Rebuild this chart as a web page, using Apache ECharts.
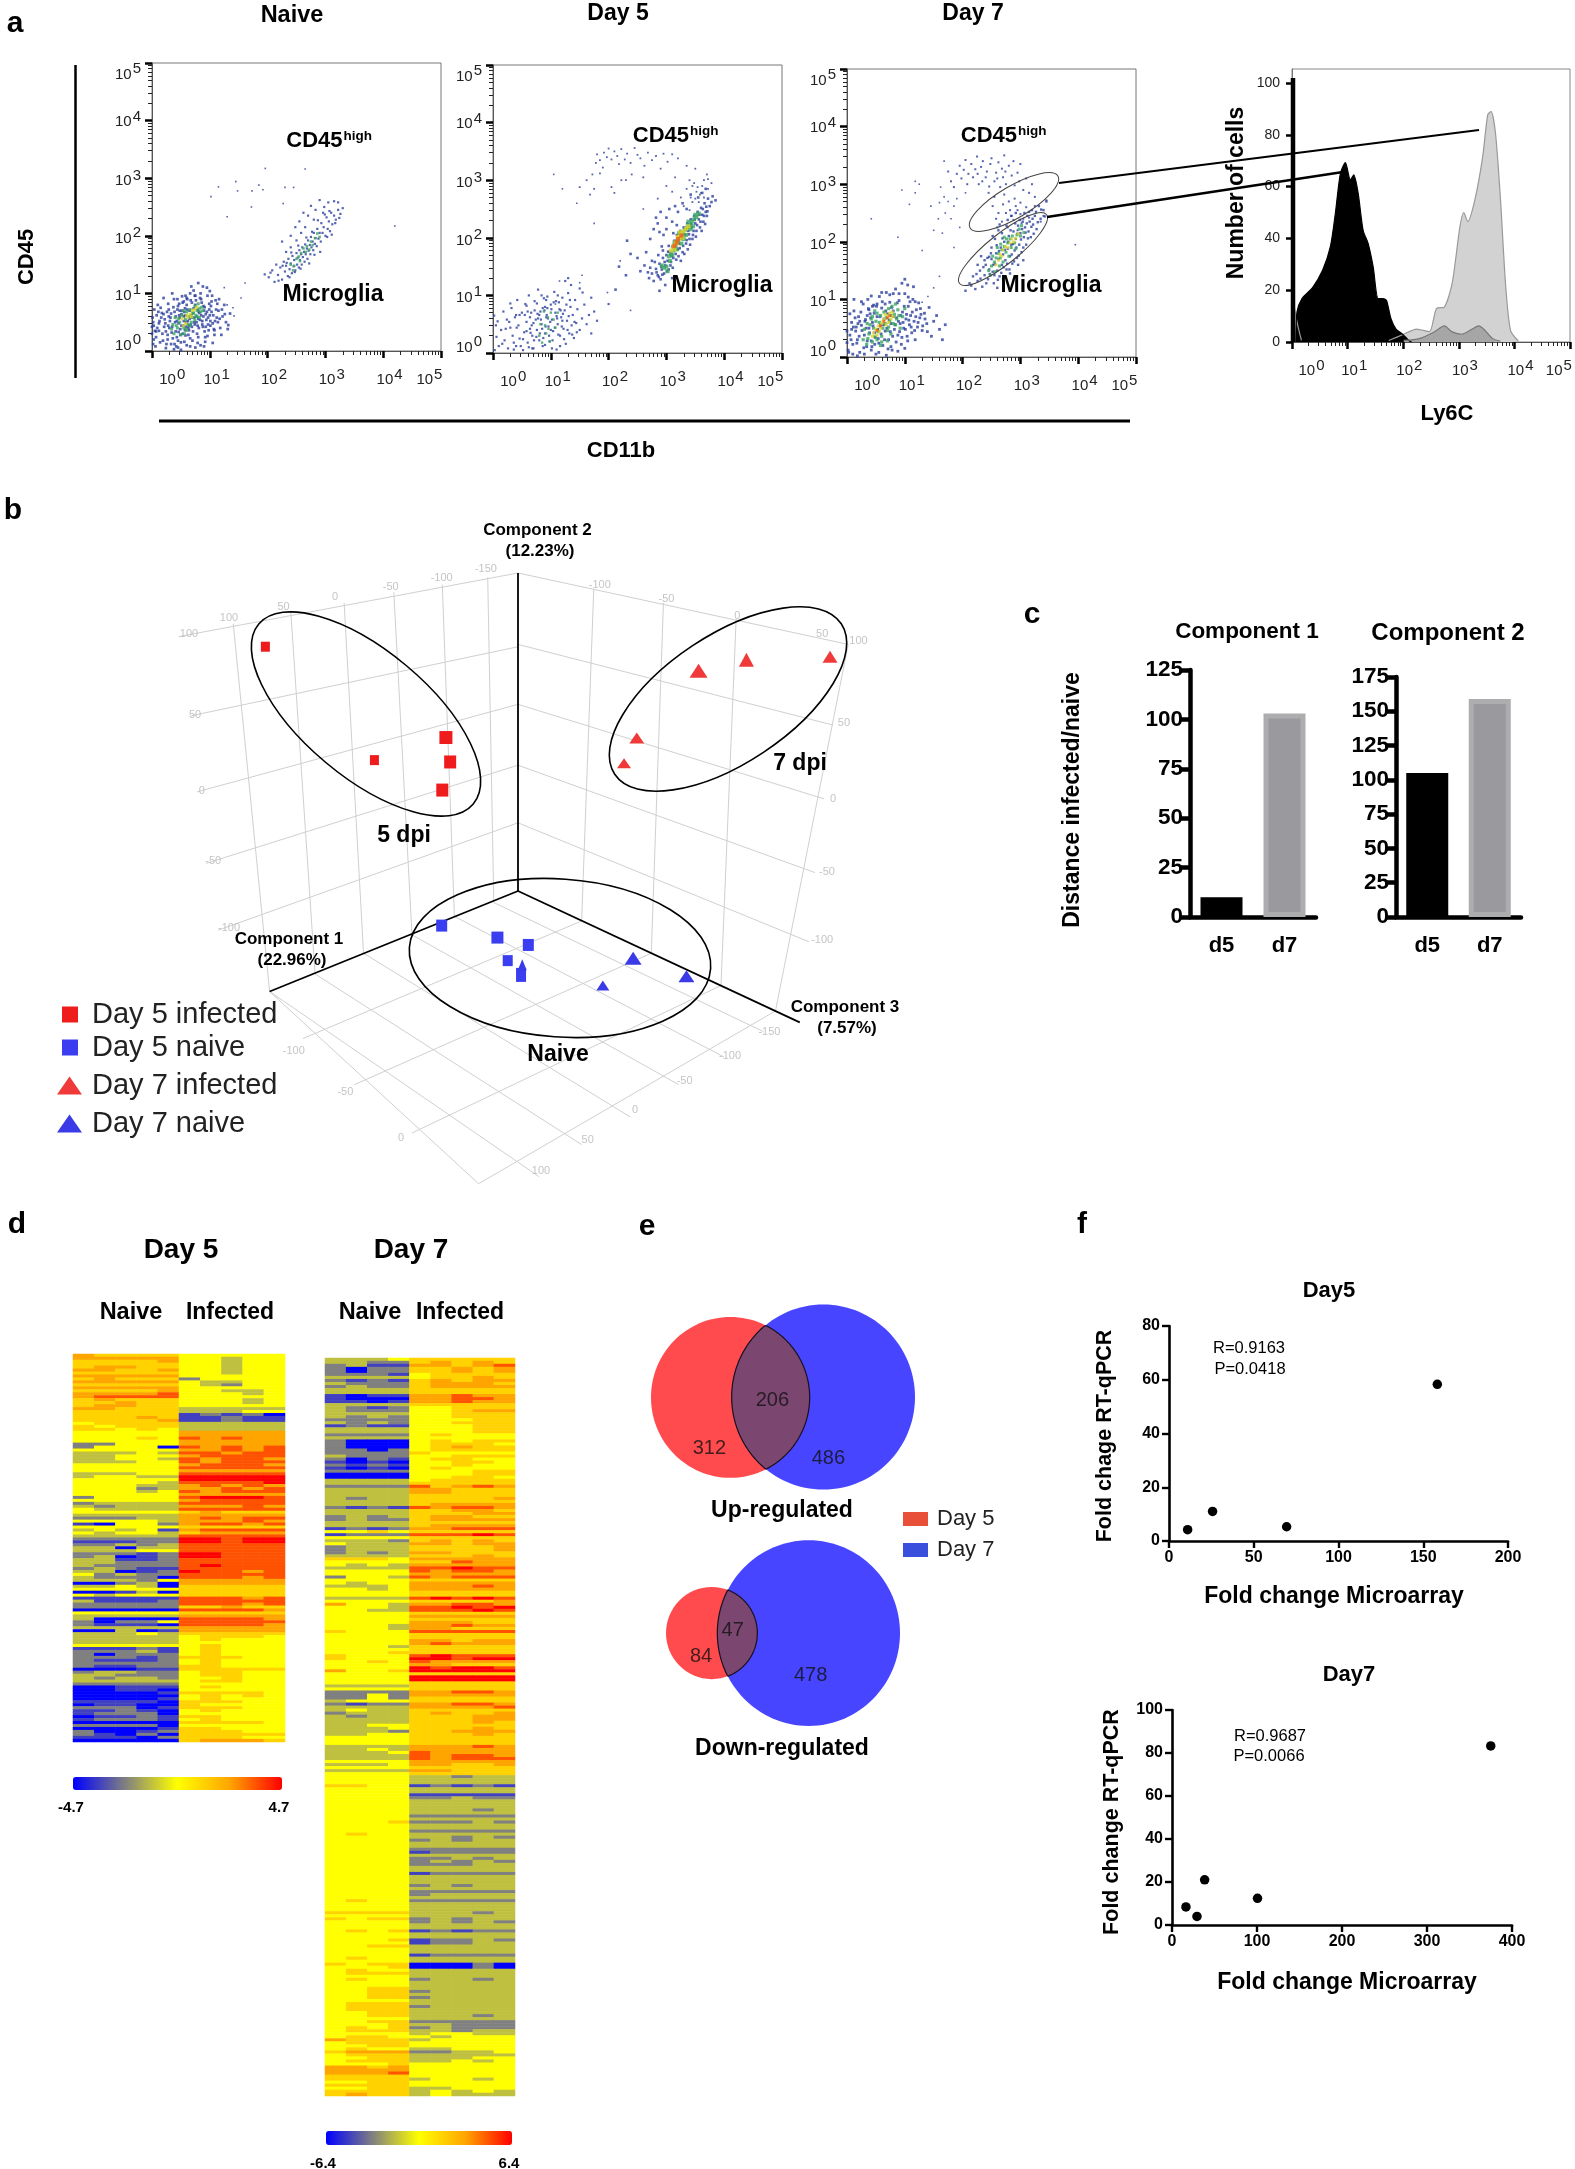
<!DOCTYPE html>
<html><head><meta charset="utf-8">
<script src="https://cdn.jsdelivr.net/npm/echarts@6/dist/echarts.min.js"></script>
<style>html,body{margin:0;background:#fff}#c{width:1575px;height:2169px}</style></head>
<body><div id="c"></div>
<script>
// ---------- panel a: flat x,y pairs, hundredths of a decade ----------
const naiveLow=[5,35,8,62,12,48,3,20,15,75,18,30,22,55,25,12,28,82,30,40,33,65,36,22,38,90,40,50,42,8,44,72,46,33,48,58,50,15,52,95,54,44,56,68,58,27,60,80,62,52,64,36,66,100,68,62,70,18,72,74,74,46,76,88,78,30,80,56,82,66,84,10,86,84,88,42,90,70,92,24,94,54,96,96,98,36,100,62,102,78,105,48,108,28,110,88,112,58,115,70,118,40,122,60,125,80,128,50,132,45,135,65,95,110,72,105,88,112,55,86,35,100,20,92,10,80,6,8,14,15,24,5,38,3,50,2,60,10,75,6,90,8,105,14,64,44,58,62,46,48,52,70,2,50,4,72,9,40,16,58,21,42,26,68,31,52,34,32,37,76,41,60,43,24,47,82,49,38,51,64,53,30,55,52,57,74,59,42,61,90,63,28,65,70,67,46,69,84,71,34,73,58,75,96,77,50,79,72,81,40,83,92,85,62,87,52,89,78,91,34,93,64,97,46,99,82,101,52,103,68,107,38,111,72,114,50,120,28,0,30,1,58,0,42,2,12,7,24,11,68,19,18,27,28,29,60,39,12,45,18,66,22,79,14,92,16,68,112,80,118,100,104,60,92,44,90];
const naiveLow2=[12,35,17,66,23,48,27,20,29,72,32,58,35,42,39,68,41,34,43,52,45,78,47,62,49,28,51,44,53,84,55,60,57,36,59,50,61,72,63,40,65,56,67,88,69,42,71,66,73,50,75,80,77,60,79,44,81,68,83,54,85,90,87,46,89,60,91,76,93,42,95,68,97,58,99,72,101,44,103,86,106,62,109,52,113,82,117,56,121,72,126,64,131,38,33,12,45,6,56,16,66,8,80,24,96,26,108,36,28,44,24,34,20,64,13,52,7,34,3,44,116,90,104,96,84,100,74,96,58,96,48,70];
const naiveLowCore=[48,50,52,62,55,40,58,55,60,68,62,46,64,60,66,72,68,50,70,58,72,66,74,78,76,62,78,70,80,82,82,74,84,68,56,30,50,28,44,40,40,58,36,46,60,36,86,76,42,44,46,56,54,70,58,38,66,44,70,66,74,54,78,60,82,58,88,70,34,38,38,30];
const naiveLowHot=[62,58,66,64,70,70,74,72,58,48,54,44,52,56,78,76,60,62,68,60];
const naiveMicro=[195,133,202,128,208,140,212,120,215,150,218,132,222,145,225,124,228,155,230,138,232,148,235,130,236,160,238,142,240,152,242,135,243,165,245,147,246,158,248,140,250,170,251,150,252,162,254,145,255,175,256,158,258,168,259,150,260,180,261,163,263,172,264,155,265,185,266,168,268,178,269,160,270,192,271,174,273,184,274,168,275,198,276,180,278,190,279,175,280,205,282,186,283,196,285,182,286,212,288,195,290,205,292,190,293,222,295,205,297,215,300,200,302,232,304,212,306,225,308,208,310,240,312,220,315,235,318,228,322,245,326,238,330,248,240,200,248,215,255,225,262,240,270,235,275,252,283,245,290,262,298,250,240,180,232,172,225,190,305,258,322,258,265,215,280,228,315,260,296,240,258,205,250,192,233,153,241,171,247,137,253,183,257,143,267,197,272,152,277,207,281,167,287,227,291,172,299,237,303,198,307,243,311,202,317,222,324,231,238,128,226,148,219,122,205,136];
const naiveMicroCore=[240,150,250,160,258,170,262,178,268,182,275,190,282,196,246,148,254,164,272,176,286,204,244,140,256,156,266,172,278,184,290,198];
const naiveSparse=[102,268,115,285,145,294,148,278,173,278,185,288,192,280,196,317,230,284,245,284,265,316,130,233,172,250,227,256,420,217,161,118,154,92,142,61,130,80,125,110,140,75];
const d5Low=[3,5,6,28,8,55,10,12,14,40,18,72,20,22,24,58,26,8,30,44,32,78,34,30,38,62,40,12,42,92,44,48,46,25,50,70,52,5,54,36,56,85,58,54,60,18,62,100,64,42,66,70,68,30,70,8,72,90,74,58,76,40,78,110,80,22,82,72,84,50,86,12,88,95,90,34,92,62,94,78,96,46,98,20,100,84,102,58,104,38,106,106,108,70,110,6,112,50,114,88,116,30,118,62,120,96,122,42,124,74,126,16,128,56,130,104,132,34,134,80,136,48,138,66,140,26,142,92,144,52,146,76,150,40,154,60,158,84,162,50,166,66,170,34,175,72,180,56,130,130,125,125,135,118,150,112,155,105,170,96,200,85,55,66,60,72,65,35,70,52,75,28,80,66,85,42,90,80,95,60,100,40,105,88,110,64,115,76,120,56,92,92,86,78,78,60,72,74,48,12,36,6,22,42,16,16,5,48,2,65,30,86,40,66];
const d5Low2=[62,10,67,48,71,22,77,68,81,34,83,58,87,26,89,74,91,46,93,66,97,30,99,54,101,76,103,22,107,44,109,90,111,60,113,32,117,74,119,46,121,68,123,24,127,84,129,40,131,64,133,92,137,32,141,54,145,36,64,62,58,38,52,24,46,66,41,44,36,18,28,54,84,100,94,98,112,100,76,86,68,8,58,82,90,14,102,8,116,12];
const d5LowCore=[80,30,85,18,90,48,95,62,100,70,92,34,105,58,88,72,98,20,82,50,96,42,108,44,112,70];
const d5High=[150,288,162,300,172,310,178,330,180,345,185,335,190,322,192,348,197,340,200,355,205,336,210,350,215,342,218,328,222,354,228,336,232,346,238,330,245,356,250,344,255,338,262,325,268,348,275,335,282,342,290,320,295,346,302,332,310,345,320,338,335,325,340,300,345,290,350,320,354,288,360,278,365,300,335,285,325,270,330,255,350,268,358,275,345,262,340,248,372,302,365,270,372,285,378,295,230,300,222,300,205,288,185,312,175,285,168,275,210,278,240,310,260,305,300,290,315,305,285,268,310,280,352,280,348,295,356,262,342,270,362,290,370,310];
const d5Micro=[270,130,275,138,278,125,282,146,285,135,288,155,290,128,292,145,294,165,296,138,298,152,300,170,302,160,304,145,306,175,308,158,310,185,312,165,314,195,316,172,318,205,320,180,322,190,324,212,326,198,328,175,330,218,332,205,334,190,336,225,338,212,340,198,342,232,344,218,346,205,348,238,350,225,352,212,354,245,356,232,358,218,360,252,362,240,364,228,366,260,368,245,370,238,372,268,375,255,378,262,380,272,385,265,265,175,272,198,278,215,282,235,275,160,285,225,290,245,295,205,300,235,305,250,310,228,315,255,320,245,328,260,335,250,342,275,288,210,292,185,300,215,250,165,255,142,262,152,238,172,298,118,310,130,288,108,230,135,218,150,232,195,212,110,355,270,362,278,368,285];
const d5Micro2=[283,140,287,132,291,150,293,136,297,158,301,142,303,176,307,152,309,168,311,148,313,182,317,162,319,194,321,168,323,182,325,160,327,204,329,186,331,172,333,214,335,196,337,180,339,206,341,188,343,224,345,198,347,212,349,232,351,202,353,222,357,240,359,228,361,212,363,250,365,238,367,224,369,254,371,246,294,178,286,170,280,158,272,148,268,140,304,186,312,208,318,222];
const d5MicroCore=[300,150,304,168,308,172,312,178,316,186,320,195,324,200,328,208,332,214,336,218,340,222,344,228,348,232,352,236,302,142,306,160,310,170,314,192,318,180,322,208,326,190,330,198,334,205,338,228,342,215,346,220,296,148,292,152,350,240,356,242];
const d5MicroHot=[308,178,312,186,316,192,320,202,322,198,326,206,330,212,334,216,338,220,314,180,318,190,324,210,328,200];
const d5Hottest=[314,186,320,198,326,204,318,192];
const d5Sparse=[105,310,120,285,145,260,175,225,220,160,260,250,238,74,108,85,115,125,150,122,154,135,198,105];
const d7Low=[2,12,5,38,8,60,10,22,12,80,15,45,18,30,20,70,22,8,25,55,28,92,30,38,32,65,34,18,36,100,38,50,40,75,42,28,44,60,46,90,48,42,50,5,52,70,54,32,56,105,58,55,60,85,62,20,64,66,66,45,68,112,70,75,72,30,74,95,76,58,78,12,80,80,82,48,84,118,86,68,88,38,90,98,92,58,94,22,96,78,98,50,100,110,102,66,104,36,106,88,108,56,110,72,112,42,114,100,116,62,118,30,120,82,122,52,124,94,126,68,130,46,134,76,138,58,142,86,146,36,150,62,155,72,160,48,165,30,170,56,95,128,105,125,115,122,100,135,80,110,60,112,42,106,25,96,12,100,5,75,0,45,0,25,3,8,10,5,18,2,30,5,42,12,55,8,68,3,76,18,88,10,100,15,48,22,35,72,22,62,16,52,8,48,38,82,44,88,52,92,66,92,74,108,90,110,106,104,118,96,128,74];
const d7Low2=[7,30,11,52,14,68,17,24,19,58,21,36,24,78,26,46,29,16,31,62,33,50,35,28,37,84,39,42,41,68,43,18,45,54,47,76,49,34,51,88,53,48,55,24,57,70,59,40,61,96,63,56,65,30,67,80,69,50,71,14,73,64,75,44,77,86,79,36,81,70,83,56,85,26,87,94,89,62,91,44,93,72,95,34,97,60,99,88,101,48,103,74,105,28,107,64,109,96,111,52,113,78,117,46,119,70,123,60,127,84,131,54,135,66,139,44];
const d7LowCore=[30,48,35,58,38,40,42,66,46,50,48,35,50,62,52,76,54,44,56,60,58,72,60,36,62,50,64,78,66,58,68,68,70,46,72,84,74,62,76,72,78,88,80,58,82,74,84,92,86,66,88,82,90,72,92,50,28,30,34,22,44,26,58,20,70,28,40,56,44,70,48,80,52,30,60,26,72,52,76,40,84,56,96,70,100,84,36,32];
const d7LowHot=[46,42,50,48,54,54,58,50,60,58,62,62,64,66,68,56,70,72,72,60,74,76,56,44,52,38,76,66,44,36,66,74,80,70,78,78];
const d7Hottest=[58,54,64,62,70,68,52,46,74,72];
const d7High=[175,322,180,305,185,295,190,318,195,332,198,310,202,325,205,342,208,300,210,318,215,335,218,312,222,326,225,348,228,300,232,330,235,340,240,312,242,322,245,285,248,335,250,345,255,305,258,320,262,338,265,295,268,327,270,312,272,350,275,300,280,332,285,315,288,340,290,298,295,320,298,305,300,335,305,290,310,310,315,285,320,300,325,278,270,265,275,250,280,270,285,245,290,275,295,255,300,268,305,240,310,260,255,278,262,250,268,235,278,225,288,238,295,220,302,232,260,225,315,242,325,262,345,272,340,245,335,235,252,262,258,240,272,282,282,255,292,262,300,248,226,318,234,305,246,296,260,310,274,322];
const d7Scatter=[42,240,95,290,108,265,118,285,118,305,125,300,145,262,150,220,158,240,160,268,162,295,168,278,170,250,175,270,185,262,190,275,168,340,205,285,88,208,130,185,165,215,185,190,160,140,150,120,140,105,130,95,195,225,180,240,395,195];
const d7Micro=[205,115,212,128,218,140,222,118,226,132,230,150,234,122,238,142,240,160,244,135,246,152,250,170,252,148,254,128,256,162,258,180,260,150,262,170,264,140,266,190,268,160,270,178,272,200,274,168,276,152,278,188,280,210,282,175,284,195,286,162,288,218,290,185,292,205,294,172,296,228,298,195,300,215,302,182,304,235,306,208,308,225,310,195,312,245,314,218,316,235,318,208,320,255,322,230,325,245,328,222,332,262,335,240,340,255,345,270,250,190,256,205,262,220,268,215,276,228,284,245,292,250,232,175,226,160,260,120,270,135,282,145,296,160,305,168];
const d7Micro2=[215,124,224,144,231,136,236,156,241,128,243,172,247,144,249,180,253,160,255,142,259,194,261,134,263,184,267,146,269,206,271,156,273,186,277,162,279,200,281,152,283,220,285,178,287,196,289,166,291,232,293,190,295,214,297,176,299,238,301,204,303,222,305,190,307,250,309,216,311,232,313,206,315,252,319,226,321,240,323,214,327,252,330,234,336,256,342,244,252,210,264,230,278,238,246,174,238,168];
const d7MicroCore=[245,150,250,158,255,165,258,172,262,180,265,172,268,186,272,192,275,182,278,198,282,205,286,210,290,198,294,212,298,222,302,228,306,216,270,165,264,158,280,175,252,175,260,190,276,205,248,142,256,148,284,190,292,188,300,210,272,208,266,196];
const d7MicroHot=[265,178,270,186,274,192,278,190,282,198,268,175,262,168,285,205,288,200,292,206,296,214,258,160];
// x,y of the Ly6C histogram outlines, decades and percent
const histBlack=[[0.07,0],[0.09,11.6],[0.18,16.8],[0.37,21],[0.55,27.7],[0.69,36.8],[0.78,49.7],[0.87,65],[0.96,69.3],[1.05,62.6],[1.11,64.5],[1.19,57.4],[1.28,43],[1.37,38],[1.46,29],[1.55,16.8],[1.64,16.8],[1.7,16],[1.78,9],[1.87,5],[1.99,3],[2.1,0.6],[2.15,0]];
const histLight=[[1.74,0.6],[2.01,3],[2.24,5],[2.47,4],[2.6,13],[2.74,13.5],[2.88,22.6],[3.02,44.5],[3.09,50],[3.16,46.5],[3.29,55],[3.43,71.6],[3.52,87.7],[3.58,89],[3.66,80.6],[3.75,55],[3.84,22.6],[3.93,4.5],[4.07,0.4]];
const histSpike=[[0,18.7],[0.09,7.7],[0.17,0.6]];
const histMid=[[2.01,0.6],[2.29,1.3],[2.56,3.9],[2.74,6.2],[2.88,3.9],[3.06,3],[3.24,5],[3.36,6.2],[3.47,4.5],[3.61,1.3],[3.75,0.3]];
const histTicks=[0,20,40,60,80,100];
const logExponents=[0,1,2,3,4,5];
const logLabelX=[.35,1.12,2.11,3.11,4.11,4.8];
const logLabelY=[.09,.96,1.95,2.95,3.97,4.8];
// ---------- panel b: projected coordinates ----------
const pcaFrame=[[855,870,445,1088],[855,870,1320,1155],[855,180,855,870]];
const pcaGrid=[[855,180,295,318],[855,340,315,490],[855,465,325,655],[855,597,340,810],[855,722,360,955],[385,290,445,1088],[480,265,520,1050],[568,245,600,1005],[650,222,680,965],[730,205,750,925],[805,190,815,895],
[855,180,1400,335],[855,335,1375,510],[855,465,1360,670],[855,597,1345,830],[855,722,1335,980],[1400,335,1280,1130],[980,215,960,935],[1095,245,1075,1005],[1215,280,1190,1075],
[960,935,500,1190],[1075,1005,585,1290],[1190,1075,680,1395],[1280,1130,790,1505],[445,1088,790,1505],[445,1088,890,1490],[520,1050,960,1420],[600,1005,1040,1360],[680,965,1120,1290],[750,925,1195,1230],[815,895,1260,1175]];
const pcaTickLabels=[[378,277,'100'],[468,253,'50'],[553,232,'0'],[645,211,'-50'],[729,190,'-100'],[802,172,'-150'],[312,312,'100'],[322,487,'50'],[333,652,'0'],[352,805,'-50'],[378,950,'-100'],[990,205,'-100'],[1100,237,'-50'],[1217,273,'0'],[1357,312,'50'],[1417,328,'100'],[1393,505,'50'],[1375,670,'0'],[1365,828,'-50'],[1357,977,'-100'],[1270,1175,'-150'],[1205,1228,'-100'],[1130,1282,'-50'],[1048,1345,'0'],[970,1410,'50'],[893,1477,'100'],[485,1218,'-100'],[570,1305,'-50'],[662,1405,'0']];
const d5Inf=[[438,340,9,10],[618,586,9,10],[736,537,13,13],[743,590,12,13],[730,651,12,13]];
const d5Nai=[[729,945,11,12],[821,971,12,12],[872,987,11,12],[838,1021,10,11],[860,1052,10,14]];
const d7Inf=[[1370,362,15,12],[1232,368,15,14],[1153,392,18,14],[1051,538,15,11],[1030,593,14,10]];
const d7Nai=[[862,1030,9,11],[1045,1016,17,13],[1133,1055,16,12],[995,1075,13,10]];
// ---------- panel c ----------
const compCats=['d5','d7'];
const comp1=[10,103];
const comp2=[105,159];
// ---------- panel d: one digit per cell, 1 = lowest ... 5 = middle ... 9 = highest ----------
const day5Rows=['7666655555','7777755455','6666755455','6666655455','6776655455','7766755455','6666655455','7777755555','6766635555','7777754455','6666654355','7777755555','6666755445','7777855545','7888855555','6766655545','6676655545','6776655555','7766644444','6666644455','6666623231','6667622322','6666722322','5666644444','6566644444','6656544444','5555577777','5555577777','5556587877','5555577777','3355577777','3555187878','5555577878','4445488788','4455578888','4455487887','4445587888','5555578887','5555588888','5555577777','4445588888','4554499999','5555599999','5555488889','5554478787','5553477878','5554587888','5555577777','3555589998','5555578888','3444488888','4344477787','5444488888','5555567666','4444477777','3334478788','5555477787','2155378878','5555566666','4545278888','5455467777','4444488888','3333399899','2223399899','3343488888','4414488888',
'4445588888','3332399888','3412399888','4422388888','4433388888','4333389888','3432288888','4412398878','5343388888','4333188878','4443577777','1134177777','4454166666','5555566666','1124166666','5455566666','2222288878','4222388888','3333388878','3333366766','1111188887','5555566666','4444477777','4111188887','3133588888','3222188887','4444477777','1141277777','4445466666','4444456665','4444456555','4444455555','5555556555','2223256555','3334256555','3133356555','3332366655','3222356555','3333356555','3223366555','1112266666','3443356655','4433356655','4344355655','4444456655','3333355555','1122256555','1122155555','1111266665','1111156565','1111256555','2222166655','1221165555','3331266655','2232156555','2333155555','1223266555','2333256555','1111166665','3333155555','1111266555','3112366655','3213166666','2221366655','1111167776'];
const day7Rows=['444566666','443367676','342277678','313366767','313366767','333256666','444456676','323267677','433367776','343367777','444466666','444466666','212277877','211177887','221277877','444466666','432355666','433355677','444455666','434355666','333355566','434355666','232255566','444455566','444455566','333356555','444455555','311156566','311156665','311156766','331356666','333365555','433355666','313256655','212155665','323255655','212156555','333355566','111155566','111155665','444456666','444466666','333386787','444477666','444477666','444466666','434466667','444466666','444467777','323287887','444466776','444466677','343467766','343367777','444466666','444467777','232377888','556566666','233388898','555566666','444367676','544477677','344466667','344466667','343477666','444466676','666577777','555566877','545477777','444488988','555587887','555577777','355487888','555566666','545577777','444577787','554577777','555566666','555566666','444489898','555566667','755477887','555488989','554488898','555566666','555577777','555566666','555577766','555477877','555477666','655588888','555566666','555566666','555577677','555578777','555466666','555566666','555666666','655589888','655599899','556587777','555577666','555598998','755699999','555566666','555599999','555599999','555566666','444466666','555566666','333377887','335377777','335366666','455566666','323377887','444477778','454466666','344467667','434466677','444466677','444466676','445566666',
'444566676','444366777','445566676','555566666','555566666','555566666','444477787','445477777','444587777','444487887','444487888','555577777','444577667','555566666','444477666','555566666','555544344','555544444','555544444','665523232','555544444','555544444','555522222','555533433','555544444','555544444','555544444','555544434','555544444','555533333','555544444','555633343','555544444','555544444','555533333','565544444','555544343','555534344','555544444','555544444','555533333','555523333','555544444','555533434','555534343','555533344','555544444','555544444','555523333','555544444','555544444','555544444','555534344','555544444','555533333','555534444','555544444','565533333','555544444','555544444','555544444','666644434','555544444','656634344','555534343','555544444','555544444','565623233','555544444','555544444','555623343','555523344','556644444','555544444','555544444','555523333','565544444','555544444','656611131','555611131','565544444','566644444','555544444','565534434','555544444','555544444','556644444','556634444','556644444','556634444','555544444','566644444','566634444','566644444','556644444','556644434','555544444','556633333','555644333','565634333','566644344','555545544','566554555','766645555','566655555','556655555','565544555','677733445','566644444','556644455','566644545','555655555','776755555','777755555','777855555','666655555','666645545','556655555','666655555','556644555','666645454','676645444'];
const cbar5=['-4.7','4.7'];
const cbar7=['-6.4','6.4'];
// ---------- panel e: centre x, centre y, radius x, radius y ----------
const vennUpA=[331,504,238,216], vennUpB=[610,503,275,249];
const vennDownA=[275,1138,137,124], vennDownB=[566,1138,274,250];
const vennCounts=[[457,513,'206'],[268,642,'312'],[625,668,'486'],[338,1130,'47'],[243,1202,'84'],[572,1253,'478']];
// ---------- panel f ----------
const fDay5=[[11,4.2],[25.7,11],[69.4,5.3],[158.3,58.3]];
const fDay7=[[16.4,8.4],[29.4,4],[38.4,21],[100.6,12.4],[375,83.3]];

const SANS='"Liberation Sans", Arial, sans-serif';
const grid=[],xAxis=[],yAxis=[],series=[],legend=[],visualMap=[],graphic=[];
function pairs(a){const r=[];for(let i=0;i<a.length;i+=2)r.push([a[i]/100,a[i+1]/100]);return r;}
function addGrid(box,x,y){grid.push(Object.assign({containLabel:false},box));const g=grid.length-1;x.gridIndex=g;y.gridIndex=g;xAxis.push(x);yAxis.push(y);return {x:xAxis.length-1,y:yAxis.length-1,g};}
function T(x,y,text,size,bold,o){o=o||{};graphic.push({type:'text',x,y,rotation:o.rot||0,z:o.z||50,silent:true,style:{text,fontFamily:SANS,fontSize:size,fontWeight:bold?'bold':'normal',fill:o.fill||'#000',align:o.align||'center',verticalAlign:'middle'}});}
function L(x1,y1,x2,y2,w,c){graphic.push({type:'line',z:45,silent:true,shape:{x1,y1,x2,y2},style:{stroke:c||'#000',lineWidth:w}});}
function E(cx,cy,rx,ry,deg,c,w){graphic.push({type:'ellipse',x:cx,y:cy,rotation:deg*Math.PI/180,z:45,silent:true,shape:{cx:0,cy:0,rx,ry},style:{fill:'none',stroke:c,lineWidth:w}});}

const minorLog=[];for(let n=0;n<5;n++)for(let m=2;m<10;m++)minorLog.push(n+Math.log10(m));
const logRich={b:{fontFamily:SANS,fontSize:15,color:'#222'},s:{fontFamily:SANS,fontSize:15,color:'#222',padding:[0,0,11,1]}};
function nearestIdx(arr,v){let b=0;arr.forEach((a,i)=>{if(Math.abs(a-v)<Math.abs(arr[b]-v))b=i;});return b;}
function logAxisX(){return {type:'value',min:0,max:5,position:'bottom',axisLine:{onZero:false,show:true,lineStyle:{color:'#555',width:1}},splitLine:{show:false},
 axisTick:{show:true,customValues:[0,1,2,3,4,5],length:7,lineStyle:{color:'#000',width:2.5}},
 axisLabel:{customValues:logLabelX,margin:16,formatter:v=>'{b|10}{s|'+logExponents[nearestIdx(logLabelX,Number(v))]+'}',rich:logRich}};}
function logAxisY(){return {type:'value',min:0,max:5,position:'left',axisLine:{onZero:false,show:true,lineStyle:{color:'#555',width:1}},splitLine:{show:false},
 axisTick:{show:true,customValues:[0,1,2,3,4,5],length:7,lineStyle:{color:'#000',width:2.5}},
 axisLabel:{customValues:logLabelY,margin:11,formatter:v=>'{b|10}{s|'+logExponents[nearestIdx(logLabelY,Number(v))]+'}',rich:logRich}};}
function minorAxis(dim,g){const a={type:'value',gridIndex:g,min:0,max:5,position:dim==='x'?'bottom':'left',axisLine:{show:false,onZero:false},splitLine:{show:false},axisLabel:{show:false},axisTick:{show:true,customValues:minorLog,length:4,lineStyle:{color:'#222',width:1}}};(dim==='x'?xAxis:yAxis).push(a);}
const NAVY='#2c3f9e',GREEN='#3aa562',YEL='#d9d52a',RED='#ee5a1e';
function flow(left,top,layers){
 const a=addGrid({left,top,width:289,height:288,show:true,borderColor:'#777',borderWidth:1,backgroundColor:'#fff'},logAxisX(),logAxisY());
 minorAxis('x',a.g);minorAxis('y',a.g);
 layers.forEach(l=>series.push({type:'scatter',xAxisIndex:a.x,yAxisIndex:a.y,data:pairs(l[0]),symbol:'rect',symbolSize:l[2],itemStyle:{color:l[1]},silent:true,z:3}));
}
flow(152,63,[[naiveSparse,NAVY,1.6],[naiveLow,NAVY,2.7],[naiveLow2,NAVY,2.7],[naiveMicro,NAVY,2.2],[naiveLowCore,GREEN,3],[naiveMicroCore,GREEN,2.6],[naiveLowHot,YEL,3]]);
flow(493,65,[[d5Sparse,NAVY,1.6],[d5High,NAVY,1.8],[d5Low,NAVY,2.2],[d5Low2,NAVY,2.2],[d5LowCore,GREEN,2.4],[d5Micro,NAVY,2.6],[d5Micro2,NAVY,2.6],[d5MicroCore,GREEN,4],[d5MicroHot,YEL,4],[d5Hottest,RED,4.2]]);
flow(847,69,[[d7Scatter,NAVY,1.6],[d7High,NAVY,2],[d7Low,NAVY,2.8],[d7Low2,NAVY,2.8],[d7Micro,NAVY,2.4],[d7Micro2,NAVY,2.4],[d7LowCore,GREEN,3.2],[d7MicroCore,GREEN,3],[d7LowHot,YEL,3],[d7MicroHot,YEL,2.8],[d7Hottest,RED,2.8]]);

// histogram
{
 const y={type:'value',min:0,max:105.4,position:'left',axisLine:{show:true,onZero:false,lineStyle:{color:'#777'}},splitLine:{show:false},
  axisTick:{show:true,customValues:histTicks,length:6,lineStyle:{color:'#000',width:2.5}},axisLabel:{customValues:histTicks,margin:12,fontFamily:SANS,fontSize:14,color:'#222'}};
 const a=addGrid({left:1292,top:69,width:278,height:273,show:true,borderColor:'#888',borderWidth:1},logAxisX(),y);
 minorAxis('x',a.g);
 [[histSpike,'#cfcfcf','#999'],[histLight,'#d2d2d2','#999'],[histBlack,'#000','#000'],[histMid,'#a6a6a6','#777']].forEach(h=>series.push({type:'line',xAxisIndex:a.x,yAxisIndex:a.y,data:h[0],smooth:.25,symbol:'none',lineStyle:{color:h[2],width:1.2},areaStyle:{color:h[1],opacity:1},silent:true,z:3}));
}
L(1293,78,1293,342,4.5);
T(292,16,'Naive',23.5,true);T(618,14,'Day 5',23,true);T(973,14,'Day 7',23,true);
T(27,257,'CD45',22,true,{rot:Math.PI/2});T(621,451,'CD11b',22,true);T(1447,414,'Ly6C',22,true);
T(1237,193,'Number of cells',23,true,{rot:Math.PI/2,z:60});
L(75.5,65,75.5,378,2.5);L(159,421,1130,421,3);
[[342.5,141],[689,136],[1017,136]].forEach(p=>{T(p[0],p[1],'CD45',22,true,{align:'right'});T(p[0]+1,p[1]-5,'high',13.5,true,{align:'left'});});
T(333,295,'Microglia',23,true);T(722,286,'Microglia',23,true);T(1051,286,'Microglia',23,true);
E(1014,202,51,16,30.6,'#444',1);E(1003,249,55.5,15,38.4,'#444',1);
L(1059,183,1479,130,2.2);L(1047,217,1343,172,2.6);
T(15,24,'a',30,true);T(13,511,'b',30,true);T(1032,615,'c',30,true);T(17,1225,'d',30,true);T(647,1227,'e',30,true);T(1082,1225,'f',30,true);

// panel b
{
 const hid=(max,inv)=>({type:'value',min:0,max,inverse:!!inv,show:false});
 const a=addGrid({left:0,top:490,width:950,height:720},hid(1568),hid(1562,true));
 const lineS=(arr,c,w)=>({type:'lines',coordinateSystem:'cartesian2d',xAxisIndex:a.x,yAxisIndex:a.y,polyline:false,silent:true,z:1,lineStyle:{color:c,width:w,opacity:1},data:arr.map(s=>({coords:[[s[0],s[1]],[s[2],s[3]]]}))});
 series.push(lineS(pcaGrid,'#d0d0d0',1));series.push(lineS(pcaFrame,'#000',1.8));
 series.push({type:'scatter',xAxisIndex:a.x,yAxisIndex:a.y,data:pcaTickLabels,symbolSize:1,itemStyle:{color:'transparent'},silent:true,z:2,label:{show:true,position:'inside',formatter:p=>p.value[2],color:'#b5b5b5',fontFamily:SANS,fontSize:11}});
 const pts=(name,data,sym,col)=>series.push({name,type:'scatter',xAxisIndex:a.x,yAxisIndex:a.y,data,symbol:sym,symbolSize:v=>[v[2],v[3]],itemStyle:{color:col,opacity:1},silent:true,z:4});
 pts('Day 5 infected',d5Inf,'rect','#ee1c1c');pts('Day 5 naive',d5Nai,'rect','#3a3ef0');
 pts('Day 7 infected',d7Inf,'triangle','#f03a3a');pts('Day 7 naive',d7Nai,'triangle','#3a3ae6');
}
const legBase={orient:'vertical',selectedMode:false,padding:0};
legend.push(Object.assign({},legBase,{left:62,top:1000,itemWidth:16,itemHeight:16,itemGap:4,textStyle:{fontFamily:SANS,fontSize:29,color:'#222',padding:[0,0,0,9]},data:['Day 5 infected','Day 5 naive']}));
legend.push(Object.assign({},legBase,{left:57,top:1071,itemWidth:25,itemHeight:18,itemGap:9,textStyle:{fontFamily:SANS,fontSize:29,color:'#222',padding:[0,0,0,5]},data:['Day 7 infected','Day 7 naive']}));
T(537.5,530,'Component 2',17,true);T(540,551,'(12.23%)',17,true);
T(289,939,'Component 1',17,true);T(292,960,'(22.96%)',17,true);
T(845,1007,'Component 3',17,true);T(847,1028,'(7.57%)',17,true);
E(366,714,140,63,-40,'#000',1.6);E(728,699,136,64,33.6,'#000',1.6);E(560,958,151,79,-4,'#000',1.6);
T(404,836,'5 dpi',23,true);T(800,764,'7 dpi',23,true);T(558,1055,'Naive',23,true);

// panel c
function barPanel(left,width,top,height,max,vals){
 const x={type:'category',data:compCats,axisLine:{lineStyle:{color:'#000',width:4.5}},axisTick:{alignWithLabel:true,length:11,lineStyle:{color:'#000',width:5}},axisLabel:{margin:18,fontFamily:SANS,fontWeight:'bold',fontSize:22,color:'#000'}};
 const y={type:'value',min:0,max,interval:25,axisLine:{show:true,lineStyle:{color:'#000',width:4.5}},axisTick:{show:true,length:11,lineStyle:{color:'#000',width:4.5}},splitLine:{show:false},axisLabel:{margin:7,fontFamily:SANS,fontWeight:'bold',fontSize:22.5,color:'#000'}};
 const a=addGrid({left,top,width,height},x,y);
 series.push({type:'bar',xAxisIndex:a.x,yAxisIndex:a.y,barWidth:42,silent:true,data:[{value:vals[0],itemStyle:{color:'#000',borderColor:'#000',borderWidth:5}},{value:vals[1],itemStyle:{color:'#9a9a9e',borderColor:'#adadb0',borderWidth:5}}]});
}
barPanel(1190,126,670,247,125,comp1);
barPanel(1396,125,677,240,175,comp2);
T(1247,632,'Component 1',22.5,true);T(1448,633,'Component 2',24,true);
T(1073,800,'Distance infected/naive',23,true,{rot:Math.PI/2});

// panel d
const HEAT=['#0000ff','#808080','#ffff00','#ffa500','#ff0000'];
function heat(rows,left,top,width,height,max,cbLeft,cbTop,cbLen,cbH){
 const nc=rows[0].length,data=[];
 rows.forEach((r,ri)=>{for(let c=0;c<nc;c++)data.push([c,ri,(Number(r[c])-5)/4*max]);});
 const cats=n=>Array.from({length:n},(_,i)=>String(i));
 const a=addGrid({left,top,width,height},{type:'category',data:cats(nc),show:false},{type:'category',data:cats(rows.length),inverse:true,show:false});
 series.push({type:'heatmap',xAxisIndex:a.x,yAxisIndex:a.y,data,silent:true,itemStyle:{borderWidth:0},progressive:0});
 visualMap.push({type:'continuous',seriesIndex:series.length-1,min:-max,max,orient:'horizontal',left:cbLeft,top:cbTop,itemWidth:cbH,itemHeight:cbLen,padding:0,calculable:false,text:null,showLabel:false,inRange:{color:HEAT},hoverLink:false});
}
heat(day5Rows,73,1354,212,388,4.7,73,1777,209,13);
heat(day7Rows,325,1358,190,738,6.4,326,2131,186,14);
T(71,1808,cbar5[0],15,true);T(279,1808,cbar5[1],15,true);T(323,2164,cbar7[0],15,true);T(509,2164,cbar7[1],15,true);
T(181,1250,'Day 5',28,true);T(411,1250,'Day 7',28,true);
T(131,1313,'Naive',23.5,true);T(230,1313,'Infected',23,true);T(370,1313,'Naive',23.5,true);T(460,1313,'Infected',23,true);

// panel e
{
 const hid=(max,inv)=>({type:'value',min:0,max,inverse:!!inv,show:false});
 const a=addGrid({left:620,top:1210,width:400,height:580},hid(1200),hid(1560,true));
 const ell=(p,api)=>{const c=api.coord([p[0],p[1]]),e=api.coord([p[0]+p[2],p[1]+p[3]]);return [c[0],c[1],e[0]-c[0],e[1]-c[1]];};
 const ellSeries=(name,d,col)=>series.push({name,type:'custom',coordinateSystem:'cartesian2d',xAxisIndex:a.x,yAxisIndex:a.y,silent:true,z:2,itemStyle:{color:col},data:d,
  renderItem:(params,api)=>{const q=ell([api.value(0),api.value(1),api.value(2),api.value(3)],api);return {type:'ellipse',shape:{cx:q[0],cy:q[1],rx:q[2],ry:q[3]},style:{fill:col}};}});
 ellSeries('Day 5',[vennUpA,vennDownA],'#ff4b4e');
 ellSeries('Day 7',[vennUpB,vennDownB],'#4745ff');
 series.push({type:'custom',coordinateSystem:'cartesian2d',xAxisIndex:a.x,yAxisIndex:a.y,silent:true,z:3,data:[vennUpA.concat(vennUpB),vennDownA.concat(vennDownB)],
  renderItem:(params,api)=>{
   const A=ell([0,1,2,3].map(i=>api.value(i)),api),B=ell([4,5,6,7].map(i=>api.value(i)),api),pts=[];
   const inside=(E,x,y)=>((x-E[0])/E[2])**2+((y-E[1])/E[3])**2<=1;
   for(let i=-180;i<=180;i++){const t=i*Math.PI/180,x=A[0]+A[2]*Math.cos(t),y=A[1]+A[3]*Math.sin(t);if(inside(B,x,y))pts.push([x,y]);}
   for(let i=0;i<=360;i++){const t=i*Math.PI/180,x=B[0]+B[2]*Math.cos(t),y=B[1]+B[3]*Math.sin(t);if(inside(A,x,y))pts.push([x,y]);}
   return {type:'polygon',shape:{points:pts},style:{fill:'#7b4670',stroke:'#1a1020',lineWidth:1.2}};}});
 series.push({type:'scatter',xAxisIndex:a.x,yAxisIndex:a.y,data:vennCounts,symbolSize:1,itemStyle:{color:'transparent'},silent:true,z:5,label:{show:true,position:'inside',formatter:p=>p.value[2],color:'#111',fontFamily:SANS,fontSize:20}});
}
legend.push({orient:'vertical',left:903,top:1508,selectedMode:false,padding:0,itemGap:9,itemWidth:25,itemHeight:14,textStyle:{fontFamily:SANS,fontSize:22,color:'#222',padding:[0,0,0,4]},data:[{name:'Day 5',icon:'rect',itemStyle:{color:'#e8503a'}},{name:'Day 7',icon:'rect',itemStyle:{color:'#3a50dc'}}]});
T(782,1511,'Up-regulated',23,true);T(782,1749,'Down-regulated',23,true);

// panel f
function fPanel(left,top,width,height,xMax,xInt,yMax,yInt,data){
 const ax=(max,interval)=>({type:'value',min:0,max,interval,splitLine:{show:false},axisLine:{show:true,onZero:false,lineStyle:{color:'#000',width:2.6}},axisTick:{show:true,length:7,lineStyle:{color:'#000',width:2.4}},axisLabel:{margin:9,fontFamily:SANS,fontWeight:'bold',fontSize:16,color:'#000'}});
 const a=addGrid({left,top,width,height},ax(xMax,xInt),ax(yMax,yInt));
 series.push({type:'scatter',xAxisIndex:a.x,yAxisIndex:a.y,data,symbolSize:9.5,itemStyle:{color:'#000',opacity:1},silent:true,z:4});
}
fPanel(1169,1326,339,215,200,50,80,20,fDay5);
fPanel(1172,1710,340,215,400,100,100,20,fDay7);
T(1329,1291,'Day5',22,true);T(1349,1675,'Day7',22,true);
T(1105,1436,'Fold chage RT-qPCR',21.5,true,{rot:Math.PI/2});T(1112,1822,'Fold change RT-qPCR',21.5,true,{rot:Math.PI/2});
T(1334,1597,'Fold change Microarray',23,true);T(1347,1983,'Fold change Microarray',23,true);
T(1249,1348,'R=0.9163',16.5,false);T(1250,1369,'P=0.0418',16.5,false);
T(1270,1736,'R=0.9687',16.5,false);T(1269,1756,'P=0.0066',16.5,false);

const chart=echarts.init(document.getElementById('c'),null,{renderer:'canvas'});
chart.setOption({animation:false,backgroundColor:'#fff',tooltip:{show:false},grid,xAxis,yAxis,series,legend,visualMap,graphic:{elements:graphic}});
</script></body></html>
